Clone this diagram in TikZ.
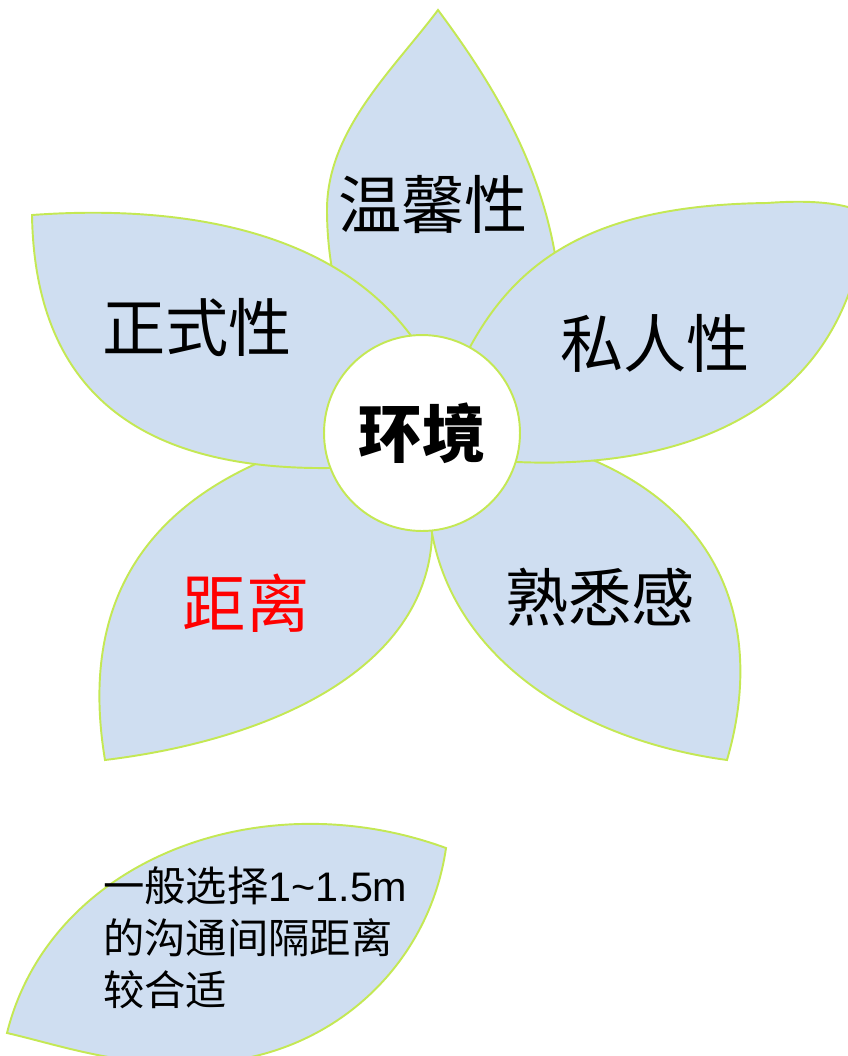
\documentclass[tikz,border=0pt]{standalone}
\usepackage{fontspec}
\usepackage{xcolor}
\usepackage{tikz}
\usetikzlibrary{positioning}
\newfontfamily\cjk{Noto Sans CJK SC}
\newfontfamily\latinsans{Liberation Sans}
\definecolor{petalfill}{RGB}{207,222,241}
\definecolor{petaledge}{RGB}{196,232,84}

\begin{document}
\begin{tikzpicture}[x=0.02cm, y=-0.02cm,
    petal/.style={fill=petalfill, draw=petaledge, line width=1.1pt},
    petaltext/.style={font=\cjk\fontsize{36}{40}\selectfont, inner sep=0pt},
    notetext/.style={font=\cjk\fontsize{23.5}{29.5}\selectfont, inner sep=0pt, align=left}]
    \clip (0,0) rectangle (848,1056);

    % top petal
    \draw[petal] (438,10) .. controls (393,70) and (327,130) .. (327,210)
        .. controls (327,320) and (380,420) .. (422,433)
        .. controls (520,420) and (570,330) .. (556,260)
        .. controls (540,160) and (490,80) .. cycle;

    % lower left petal
    \draw[petal] (422,433) .. controls (380,420) and (300,440) .. (260,462)
        .. controls (140,515) and (80,610) .. (105,760)
        .. controls (270,740) and (425,670) .. (432,537)
        .. controls (435,500) and (430,460) .. cycle;

    % lower right petal
    \draw[petal] (422,433) .. controls (425,470) and (430,510) .. (432,533)
        .. controls (455,660) and (580,740) .. (727,760)
        .. controls (762,640) and (732,520) .. (593,460)
        .. controls (560,437) and (470,420) .. cycle;

    % left petal
    \draw[petal] (422,433) .. controls (400,465) and (360,470) .. (330,468)
        .. controls (150,470) and (35,400) .. (32,215)
        .. controls (170,205) and (330,225) .. (412,337)
        .. controls (432,365) and (440,420) .. cycle;

    % right petal
    \draw[petal] (422,433) .. controls (440,400) and (455,370) .. (470,347)
        .. controls (520,255) and (600,205) .. (767,203)
        .. controls (820,199) and (850,205) .. (866,214)
        .. controls (850,400) and (700,470) .. (517,462)
        .. controls (470,463) and (440,450) .. cycle;

    % centre
    \node[circle, fill=white, draw=petaledge, line width=1.1pt, minimum size=3.92cm,
        inner sep=0pt, font=\cjk\bfseries\fontsize{36}{40}\selectfont] (env) at (422,433) {环境};

    % petal labels
    \node[petaltext] (warm) at (433,204) {温馨性};
    \node[petaltext] (formal) at (197,328) {正式性};
    \node[petaltext] (private) at (655,343) {私人性};
    \node[petaltext] (familiar) at (600,597) {熟悉感};
    \node[petaltext, text=red] (distance) at (246,603) {距离};

    % note leaf
    \draw[petal] (7,1033) .. controls (50,860) and (260,780) .. (446,848)
        .. controls (430,960) and (340,1050) .. (220,1062)
        .. controls (130,1071) and (60,1045) .. cycle;
    \node[notetext, anchor=west] (note) at (103,938)
        {一般选择{\latinsans 1\textasciitilde 1.5m}\\的沟通间隔距离\\较合适};
\end{tikzpicture}
\end{document}
